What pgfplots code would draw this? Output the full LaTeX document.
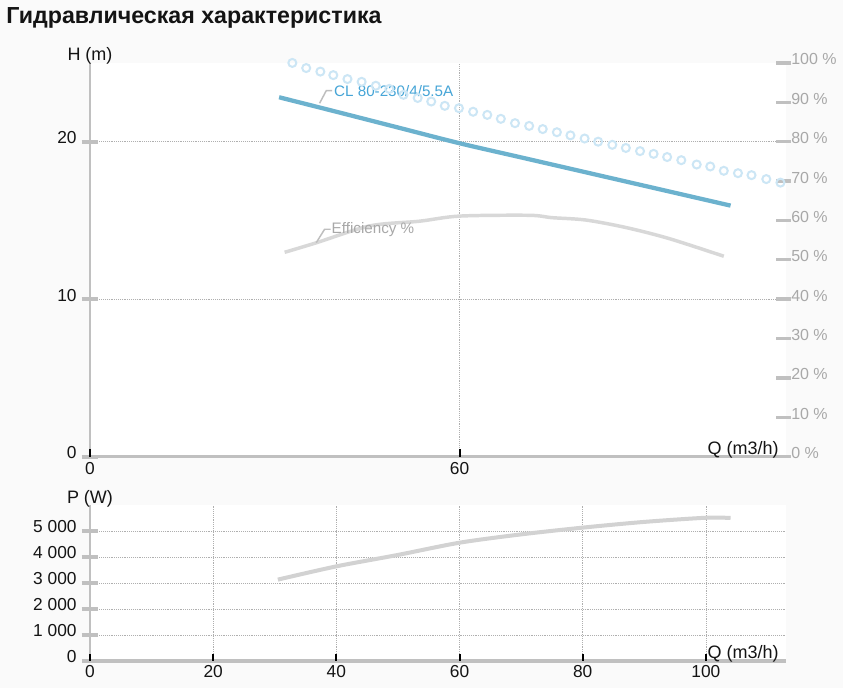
\documentclass[border=0pt]{standalone}
\usepackage{fontspec}
\setmainfont{Liberation Sans}
\usepackage{pgfplots}
\pgfplotsset{compat=1.18}
\definecolor{bgc}{RGB}{250,250,250}
\definecolor{axgray}{RGB}{192,192,192}
\definecolor{gridc}{RGB}{175,175,175}
\definecolor{hblue}{RGB}{108,178,206}
\definecolor{lblue}{RGB}{70,165,215}
\definecolor{cblue}{RGB}{204,230,245}
\definecolor{effc}{RGB}{216,216,216}
\definecolor{powc}{RGB}{210,210,210}
\definecolor{pctc}{RGB}{168,168,168}
\definecolor{txt}{RGB}{20,20,20}
\definecolor{leader}{RGB}{190,190,190}

\pgfplotstableread{
Q H
30.7 22.82
40 21.9
50 20.9
60 19.9
70 19.0
80 18.1
90 17.2
104 15.94
}\headdata
\pgfplotstableread{
Q E
31.6 51.9
36.7 54.3
45.4 58.6
53.5 59.8
60 61.1
71.3 61.3
75 60.7
80.5 60.1
87 58.2
94 55.4
102.9 50.9
}\effdata
\pgfplotstableread{
Q C
32.85 100.0
35.1 98.7
37.4 97.8
39.5 96.9
41.8 95.9
44.1 95.2
46.4 94.2
48.6 93.4
50.9 91.9
53.2 91.1
55.4 90.2
57.6 89.1
59.9 88.5
62.2 87.6
64.5 86.8
66.7 85.8
69.0 84.7
71.3 84.0
73.5 83.2
75.8 82.4
78.0 81.6
80.3 80.8
82.5 80.0
84.8 79.2
87.0 78.4
89.3 77.6
91.5 76.9
93.7 76.1
96.0 75.3
98.5 74.2
100.7 73.7
102.9 72.6
105.2 72.0
107.4 71.5
109.8 70.5
112.1 69.6
}\circdata
\pgfplotstableread{
Q P
30.5 3130
40 3640
50 4080
60 4550
70 4870
80 5130
90 5350
100 5510
104 5500
}\powdata

\pgfplotsset{
  base/.style={
    scale only axis, width=522pt, xmin=0, xmax=113,
    /pgf/number format/assume math mode=true,
    /pgf/number format/1000 sep={\ },
    tick label style={font=\fontsize{13}{15}\selectfont, text=txt},
  },
  leftax/.style={
    base,
    axis background/.style={fill=white},
    axis x line=bottom, axis y line=left,
    axis line style={-, axgray, line width=2.2pt},
    x axis line style={line width=2.5pt},
    xtick style={draw=none},
    ytick style={axgray, line width=3pt},
    major tick length=12.75pt, tick align=center,
    grid=major, grid style={densely dotted, gridc, line width=0.6pt},
    yticklabel style={anchor=base east, inner sep=0pt, xshift=-3.5pt, yshift=-1.5pt},
    xticklabel style={anchor=north, inner sep=0pt, yshift=2.4pt},
    every axis y label/.style={at={(axis description cs:0,1)}, anchor=base, yshift=1.5pt,
      font=\fontsize{13.5}{16}\selectfont, text=txt},
    every axis x label/.style={at={(axis description cs:1,0)}, anchor=base east, xshift=-2pt, yshift=1.5pt,
      font=\fontsize{13.5}{16}\selectfont, text=txt},
  },
  xtickax/.style={
    base,
    axis x line=bottom, axis y line=none,
    x axis line style={draw=none},
    xticklabels={},
    xtick style={black, line width=1.5pt},
    major tick length=5.5pt, tick align=inside,
  },
}

\begin{document}
\begin{tikzpicture}
\fill[bgc] (0,0) rectangle (632.25pt,516pt);
\node[anchor=base west, inner sep=0pt, font=\fontsize{17.4}{20}\selectfont\bfseries, text=txt] at (4.5pt,498.5pt) {Гидравлическая характеристика};

% ---- top: head ----
\begin{axis}[leftax, at={(67.5pt,173.5pt)}, anchor=south west, height=295.3pt,
  ymin=0, ymax=25, xtick={0,60}, ytick={0,10,20},
  ylabel={H (m)}, xlabel={Q (m3/h)}]
\addplot[hblue, line width=3.2pt, smooth] table[x=Q, y=H] {\headdata};
\draw[leader, line width=1.1pt] (axis cs:37.28,22.44) -- (axis cs:38.36,23.24) -- (axis cs:39.32,23.24);
\node[anchor=west, inner sep=0pt, text=lblue, font=\fontsize{11.4}{13}\selectfont] at (axis cs:39.6,23.24) {CL 80-230/4/5.5A};
\end{axis}
\begin{axis}[xtickax, at={(67.5pt,173.5pt)}, anchor=south west, height=295.3pt,
  ymin=0, ymax=25, xtick={0,60}]
\end{axis}
% ---- top: efficiency % (right axis) ----
\begin{axis}[base, at={(67.5pt,173.5pt)}, anchor=south west, height=295.3pt,
  ymin=0, ymax=100, clip=false,
  axis x line=none, axis y line=right, y axis line style={draw=none},
  ytick={0,10,...,100}, yticklabel={\pgfmathprintnumber{\tick}\ \%},
  ytick style={axgray, line width=2.5pt, xshift=-2pt},
  major tick length=11.5pt, tick align=center,
  yticklabel style={anchor=base west, inner sep=0pt, text=pctc, font=\fontsize{12}{14}\selectfont, xshift=-2pt, yshift=-1.5pt}]
\addplot[only marks, mark=o, mark size=3pt, cblue, mark options={line width=1.5pt}] table[x=Q, y=C] {\circdata};
\addplot[effc, line width=2.6pt, smooth] table[x=Q, y=E] {\effdata};
\draw[leader, line width=1.1pt] (axis cs:36.74,54.36) -- (axis cs:38.09,57.76) -- (axis cs:39.06,57.76);
\node[anchor=west, inner sep=0pt, text=pctc, font=\fontsize{11.4}{13}\selectfont] at (axis cs:39.2,57.76) {Efficiency \%};
\end{axis}

% ---- bottom: power ----
\begin{axis}[leftax, at={(67.5pt,20.25pt)}, anchor=south west, height=117pt,
  ymin=0, ymax=6000, xtick={0,20,...,100}, ytick={0,1000,...,5000},
  ylabel={P (W)}, xlabel={Q (m3/h)}, xticklabel style={yshift=0.9pt}]
\addplot[powc, line width=3pt, smooth] table[x=Q, y=P] {\powdata};
\end{axis}
\begin{axis}[xtickax, at={(67.5pt,20.25pt)}, anchor=south west, height=117pt,
  ymin=0, ymax=6000, xtick={0,20,...,100}]
\end{axis}
\pgfresetboundingbox
\useasboundingbox (0,0) rectangle (632.25pt,516pt);
\end{tikzpicture}
\end{document}
